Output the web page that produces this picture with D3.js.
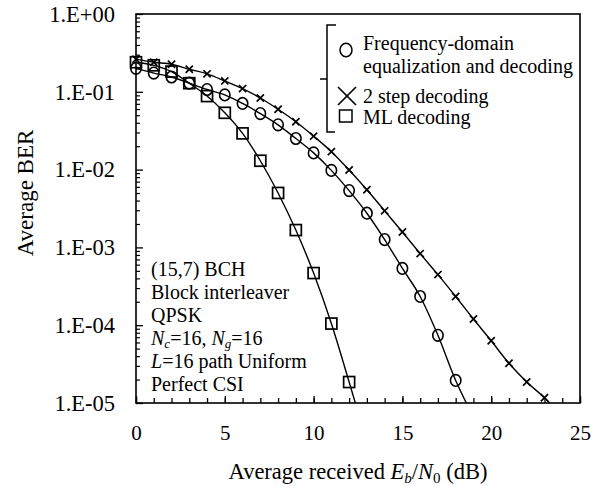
<!DOCTYPE html>
<html><head><meta charset="utf-8">
<script src="https://cdn.jsdelivr.net/npm/d3@7/dist/d3.min.js"></script>
<style>
html,body{margin:0;padding:0;background:#fff;}
text{font-family:"Liberation Serif","Times New Roman",serif;fill:#000;}
</style></head>
<body><svg id="c" width="592" height="486"></svg>
<script>
// ---- data ----
const fdeX = [0,1,2,3,4,5,6,7,8,9,10,11,12,13,14,15,16,17,18];
const fdeBER = [0.200,0.174,0.155,0.129,0.107,0.0912,0.0708,0.0525,0.0376,0.0251,0.0164,0.00977,0.00537,0.00275,0.00126,0.000537,0.000234,7.41e-5,1.95e-5];
const fdeLineEnd = [18.6, 1e-5];

const twoStepX = [0,1,2,3,4,5,6,7,8,9,10,11,12,13,14,15,16,17,18,19,20,21,22,23];
const twoStepBER = [0.263,0.240,0.226,0.195,0.170,0.138,0.110,0.0832,0.0596,0.0412,0.0269,0.0170,0.00989,0.00550,0.00295,0.00158,0.000832,0.000447,0.000234,0.000120,6.31e-5,3.24e-5,1.86e-5,1.17e-5];
const twoStepLineEnd = [23.3, 1e-5];

const mlX = [0,1,2,3,4,5,6,7,8,9,10,11,12];
const mlBER = [0.240,0.219,0.182,0.129,0.0881,0.0537,0.0292,0.0130,0.00501,0.00167,0.000468,0.000105,1.86e-5];
const mlLineEnd = [12.35, 1e-5];

const xTicks = [0,5,10,15,20,25];
const yTicks = [1,1e-1,1e-2,1e-3,1e-4,1e-5];
const yTickLabels = ["1.E+00","1.E-01","1.E-02","1.E-03","1.E-04","1.E-05"];

const legendLabels = [["Frequency-domain","equalization and decoding"],["2 step decoding"],["ML decoding"]];
const noteLines = ["(15,7) BCH","Block interleaver","QPSK"];

// ---- layout ----
const L = 136, R = 580, T = 14, B = 403;
const svg = d3.select("#c");
const x = d3.scaleLinear().domain([0,25]).range([L,R]);
const y = d3.scaleLog().domain([1e-5,1]).range([B,T]);

svg.append("defs").append("clipPath").attr("id","clip")
  .append("rect").attr("x",L).attr("y",T).attr("width",R-L).attr("height",B-T);

// frame
svg.append("rect").attr("x",L).attr("y",T).attr("width",R-L).attr("height",B-T)
  .attr("fill","none").attr("stroke","#000").attr("stroke-width",1.6);

// x axis ticks (inward)
const xMinor = d3.range(0,26,1);
const gx = svg.append("g").attr("transform",`translate(0,${B})`)
  .call(d3.axisBottom(x).tickValues(xMinor).tickSize(-5).tickFormat(""));
gx.select(".domain").remove();
gx.selectAll("line").attr("stroke","#000").attr("stroke-width",1.3);
const gx2 = svg.append("g").attr("transform",`translate(0,${B})`)
  .call(d3.axisBottom(x).tickValues(xTicks).tickSize(-7).tickPadding(22).tickFormat(d3.format("d")));
gx2.select(".domain").remove();
gx2.selectAll("line").attr("stroke","#000").attr("stroke-width",1.3);
gx2.selectAll("text").attr("font-size",21).attr("font-family","Liberation Serif").attr("fill","#000").attr("dy","0.71em");

// y axis ticks (inward)
const yMinor = [];
for (let e=-5;e<0;e++) for (let k=2;k<=9;k++) yMinor.push(k*Math.pow(10,e));
const gy = svg.append("g").attr("transform",`translate(${L},0)`)
  .call(d3.axisLeft(y).tickValues(yMinor).tickSize(-4).tickFormat(""));
gy.select(".domain").remove();
gy.selectAll("line").attr("stroke","#000").attr("stroke-width",1.2);
const gy2 = svg.append("g").attr("transform",`translate(${L},0)`)
  .call(d3.axisLeft(y).tickValues(yTicks).tickSize(-7).tickPadding(21).tickFormat((d,i)=>yTickLabels[i]));
gy2.select(".domain").remove();
gy2.selectAll("line").attr("stroke","#000").attr("stroke-width",1.3);
gy2.selectAll("text").attr("font-size",22.5).attr("font-family","Liberation Serif").attr("fill","#000");

// curves
const line = d3.line().x(d=>x(d[0])).y(d=>y(d[1])).curve(d3.curveMonotoneX);
const plot = svg.append("g").attr("clip-path","url(#clip)");
function series(xs, bers, end){
  const pts = xs.map((v,i)=>[v,bers[i]]);
  pts.push(end);
  plot.append("path").attr("d",line(pts)).attr("fill","none").attr("stroke","#000").attr("stroke-width",1.4);
  return xs.map((v,i)=>[v,bers[i]]);
}
const fdePts = series(fdeX,fdeBER,fdeLineEnd);
const tsPts = series(twoStepX,twoStepBER,twoStepLineEnd);
const mlPts = series(mlX,mlBER,mlLineEnd);

const mk = svg.append("g");
mk.selectAll(".ml").data(mlPts).join("rect")
  .attr("x",d=>x(d[0])-5.5).attr("y",d=>y(d[1])-5.5).attr("width",11).attr("height",11)
  .attr("fill","none").attr("stroke","#000").attr("stroke-width",1.7);
mk.selectAll(".fde").data(fdePts).join("ellipse")
  .attr("cx",d=>x(d[0])).attr("cy",d=>y(d[1])).attr("rx",5.2).attr("ry",5.8)
  .attr("fill","none").attr("stroke","#000").attr("stroke-width",1.6);
mk.selectAll(".ts").data(tsPts).join("path")
  .attr("d",d=>{const cx=x(d[0]),cy=y(d[1]),s=3.6;return `M${cx-s},${cy-s}L${cx+s},${cy+s}M${cx-s},${cy+s}L${cx+s},${cy-s}`;})
  .attr("fill","none").attr("stroke","#000").attr("stroke-width",1.7);

// legend
const lg = svg.append("g");
const bx = 327;
lg.append("path").attr("d",`M${bx+9},25L${bx},25L${bx},132L${bx+8},132M${bx},79L${bx-7},79`)
  .attr("fill","none").attr("stroke","#000").attr("stroke-width",1.5);
lg.append("ellipse").attr("cx",346).attr("cy",50).attr("rx",6).attr("ry",6.8).attr("fill","none").attr("stroke","#000").attr("stroke-width",1.5);
lg.append("path").attr("d","M338,87L356,105M338,105L356,87").attr("stroke","#000").attr("stroke-width",1.7);
lg.append("rect").attr("x",339.5).attr("y",110).attr("width",12.5).attr("height",12).attr("fill","none").attr("stroke","#000").attr("stroke-width",1.5);
lg.append("text").attr("x",363).attr("y",50).attr("font-size",20).text(legendLabels[0][0]);
lg.append("text").attr("x",363).attr("y",73).attr("font-size",20).text(legendLabels[0][1]);
lg.append("text").attr("x",363).attr("y",103).attr("font-size",20).text(legendLabels[1][0]);
lg.append("text").attr("x",363).attr("y",124).attr("font-size",20).text(legendLabels[2][0]);

// notes
const nx = 151;
const note = svg.append("g").attr("font-size",20);
noteLines.forEach((t,i)=>note.append("text").attr("x",nx).attr("y",276+i*23).text(t));
const n4 = note.append("text").attr("x",nx).attr("y",345);
n4.append("tspan").attr("font-style","italic").text("N");
n4.append("tspan").attr("font-style","italic").attr("font-size",13).attr("dy",3).text("c");
n4.append("tspan").attr("dy",-3).text("=16, ");
n4.append("tspan").attr("font-style","italic").text("N");
n4.append("tspan").attr("font-style","italic").attr("font-size",13).attr("dy",3).text("g");
n4.append("tspan").attr("dy",-3).text("=16");
const n5 = note.append("text").attr("x",nx).attr("y",368);
n5.append("tspan").attr("font-style","italic").text("L");
n5.append("tspan").text("=16 path Uniform");
note.append("text").attr("x",nx).attr("y",391).text("Perfect CSI");

// axis titles
const xt = svg.append("text").attr("x",358).attr("y",479).attr("text-anchor","middle").attr("font-size",22.5);
xt.append("tspan").text("Average received ");
xt.append("tspan").attr("font-style","italic").text("E");
xt.append("tspan").attr("font-style","italic").attr("font-size",15).attr("dy",4).text("b");
xt.append("tspan").attr("dy",-4).text("/");
xt.append("tspan").attr("font-style","italic").text("N");
xt.append("tspan").attr("font-size",15).attr("dy",4).text("0");
xt.append("tspan").attr("dy",-4).text(" (dB)");

svg.append("text").attr("transform","translate(33,193) rotate(-90)").attr("text-anchor","middle")
  .attr("font-size",23).text("Average BER");
</script></body></html>
